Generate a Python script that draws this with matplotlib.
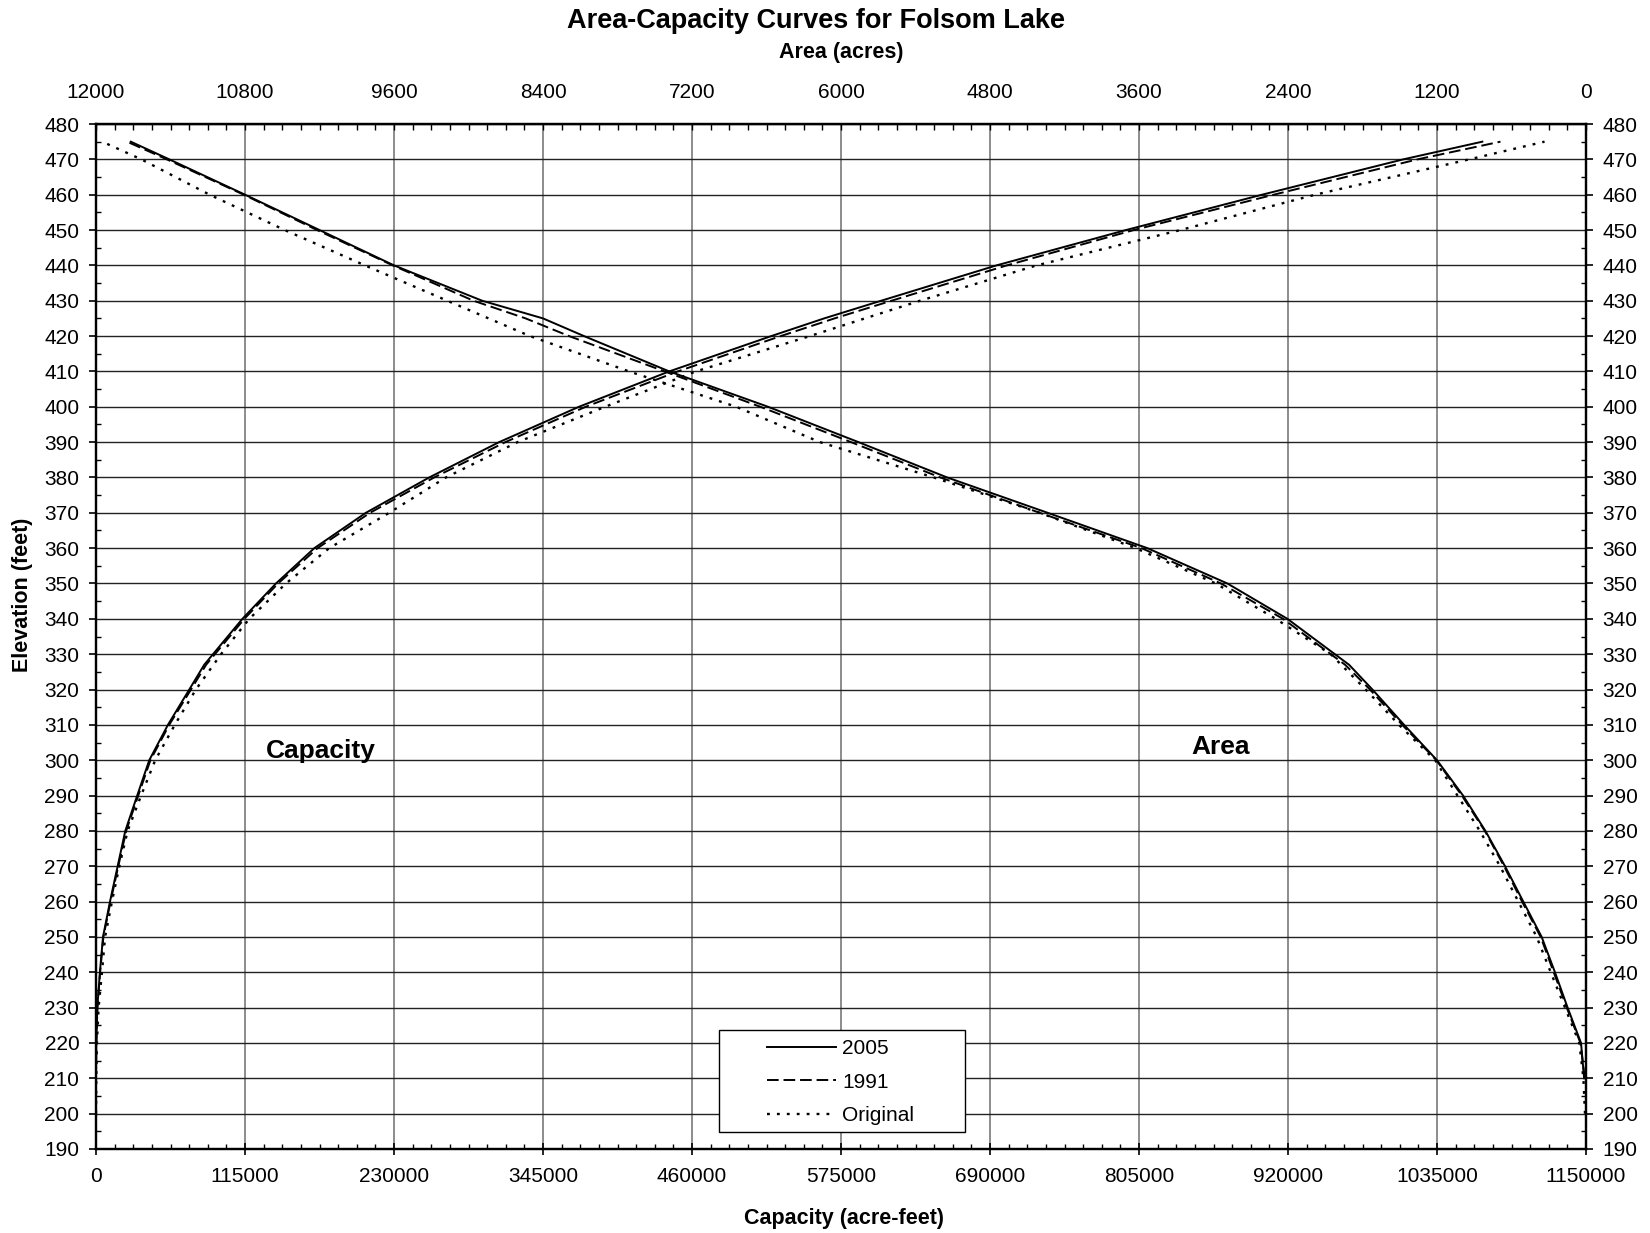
import numpy as np
import matplotlib
matplotlib.use("Agg")
import matplotlib.pyplot as plt
from matplotlib.lines import Line2D
from matplotlib.patches import Rectangle
from matplotlib.ticker import MultipleLocator, FuncFormatter

plt.rcParams["font.family"] = ["Liberation Sans", "DejaVu Sans"]

# 2005 and 1991 surveys share the same elevation points
elev_survey = [210, 220, 230, 240, 250, 260, 270, 280, 290, 300, 310, 320, 327, 340, 350,
               360, 370, 380, 390, 400, 410, 420, 425, 430, 440, 450, 460, 470, 475]
cap_2005 = [0, 200, 1000, 3000, 5400, 10800, 16700, 22600, 31800, 41100, 55500, 72000, 83500,
            113000, 138900, 168500, 208300, 257200, 311200, 372800, 442400, 521200, 562000,
            606000, 695000, 795000, 900000, 1009000, 1070000]
area_2005 = [15, 40, 148, 250, 357, 505, 652, 810, 990, 1200, 1465, 1720, 1908, 2405, 2888,
             3533, 4336, 5145, 5860, 6588, 7383, 8070, 8400, 8890, 9600, 10200, 10800, 11410, 11720]
cap_1991 = [0, 250, 1100, 3200, 5700, 11200, 17200, 23300, 32600, 42000, 56500, 73300, 85000,
            114500, 140500, 171000, 211500, 261000, 316000, 378000, 449000, 528500, 570000,
            614000, 703000, 801000, 909000, 1020000, 1084000]
area_1991 = [10, 45, 155, 260, 365, 515, 660, 815, 1000, 1205, 1480, 1740, 1940, 2440, 2940,
             3580, 4400, 5200, 5920, 6650, 7420, 8190, 8540, 8960, 9610, 10220, 10810, 11430, 11750]

# original survey
elev_orig = [200, 210, 220, 230, 240, 250, 260, 270, 280, 290, 300, 310, 320, 330, 340, 350,
             360, 370, 380, 390, 400, 410, 420, 430, 440, 450, 460, 470, 475]
cap_orig = [0, 200, 700, 2000, 4600, 7000, 12300, 18000, 24400, 34800, 45700, 60800, 77100,
            96500, 118300, 146600, 180000, 226300, 270100, 325400, 393000, 463000, 551000,
            636000, 726000, 837000, 941000, 1060000, 1118000]
area_orig = [8, 21, 54, 169, 284, 397, 545, 692, 855, 1035, 1215, 1506, 1774, 2056, 2499, 2982,
             3627, 4400, 5253, 6170, 6844, 7707, 8505, 9171, 9834, 10480, 11085, 11635, 11950]

series_labels = ["2005", "1991", "Original"]

W, H = 1650, 1233
fig = plt.figure(figsize=(W / 100, H / 100), dpi=100)
ax = fig.add_axes([96 / W, 1 - 1149 / H, 1490 / W, 1025 / H])
ax_top = ax.twiny()

styles = [dict(ls="-", lw=1.4), dict(ls=(0, (6, 2.5)), lw=1.4), dict(ls=(0, (1.2, 3.0)), lw=1.7)]

ax.set_xlim(0, 1150000)
ax.set_ylim(190, 480)
ax_top.set_xlim(12000, 0)

# capacity curves drawn on the bottom (capacity) scale
for caps, st in zip([cap_2005, cap_1991], styles[:2]):
    ax.plot(caps, elev_survey, color="black", zorder=3, **st)
ax.plot(cap_orig, elev_orig, color="black", zorder=3, **styles[2])
# area curves on the top (area) scale
for areas, st in zip([area_2005, area_1991], styles[:2]):
    ax_top.plot(areas, elev_survey, color="black", **st)
ax_top.plot(area_orig, elev_orig, color="black", **styles[2])

# ticks
ax.xaxis.set_major_locator(MultipleLocator(115000))
ax.xaxis.set_minor_locator(MultipleLocator(14375))
ax.yaxis.set_major_locator(MultipleLocator(10))
ax.yaxis.set_minor_locator(MultipleLocator(5))
ax.xaxis.set_major_formatter(FuncFormatter(lambda v, p: f"{int(round(v))}"))
ax_top.xaxis.set_major_locator(MultipleLocator(1200))
ax_top.xaxis.set_minor_locator(MultipleLocator(150))
ax_top.xaxis.set_major_formatter(FuncFormatter(lambda v, p: f"{int(round(v))}"))

fs = 15
ax.tick_params(axis="x", which="major", direction="inout", length=8.6, width=1.2, labelsize=fs, pad=9)
ax.tick_params(axis="x", which="minor", direction="in", length=3.6, width=1.0)
ax.tick_params(axis="y", which="major", direction="out", length=5, width=1.2, labelsize=fs,
               right=True, labelright=True, pad=7)
ax.tick_params(axis="y", which="minor", direction="in", length=3.6, width=1.0, right=True)
ax_top.tick_params(axis="x", which="major", direction="in", length=4.3, width=1.0, labelsize=fs, pad=16)
ax_top.tick_params(axis="x", which="minor", direction="in", length=4.3, width=1.0)

ax.xaxis.grid(True, which="major", color="#6e6e6e", lw=1.1)
ax.yaxis.grid(True, which="major", color="#222222", lw=1.0)
ax.set_axisbelow(True)

for a in (ax, ax_top):
    for s in a.spines.values():
        s.set_linewidth(1.6)
        s.set_color("black")

# curve names
ax.text(173700, 300.6, "Capacity", fontsize=19, fontweight="bold", ha="center", va="baseline")
ax.text(867600, 301.7, "Area", fontsize=19, fontweight="bold", ha="center", va="baseline")

# legend box
ax_top.add_patch(Rectangle((0.418, 0.0166), 0.1651, 0.0995, transform=ax_top.transAxes,
                           facecolor="white", edgecolor="black", lw=1.0, zorder=4))
handles = [Line2D([], [], color="black", **st) for st in styles]
ax_top.legend(handles, series_labels, loc="upper left", bbox_to_anchor=(0.4503, 0.1073),
              frameon=False, borderpad=0, borderaxespad=0, fontsize=fs, handlelength=3.3,
              handletextpad=0.3, labelspacing=0.7)

fig.text(0.4943, 1 - 21 / H, "Area-Capacity Curves for Folsom Lake", fontsize=19.5,
         fontweight="bold", ha="center", va="center")
fig.text(841 / W, 1 - 52.6 / H, "Area (acres)", fontsize=15.5, fontweight="bold",
         ha="center", va="center")
fig.text(844.5 / W, 1 - 1218.6 / H, "Capacity (acre-feet)", fontsize=15.5, fontweight="bold",
         ha="center", va="center")
fig.text(23 / W, 1 - 594.6 / H, "Elevation (feet)", fontsize=15.5, fontweight="bold",
         ha="center", va="center", rotation=90)

fig.savefig("out.png", dpi=100)
